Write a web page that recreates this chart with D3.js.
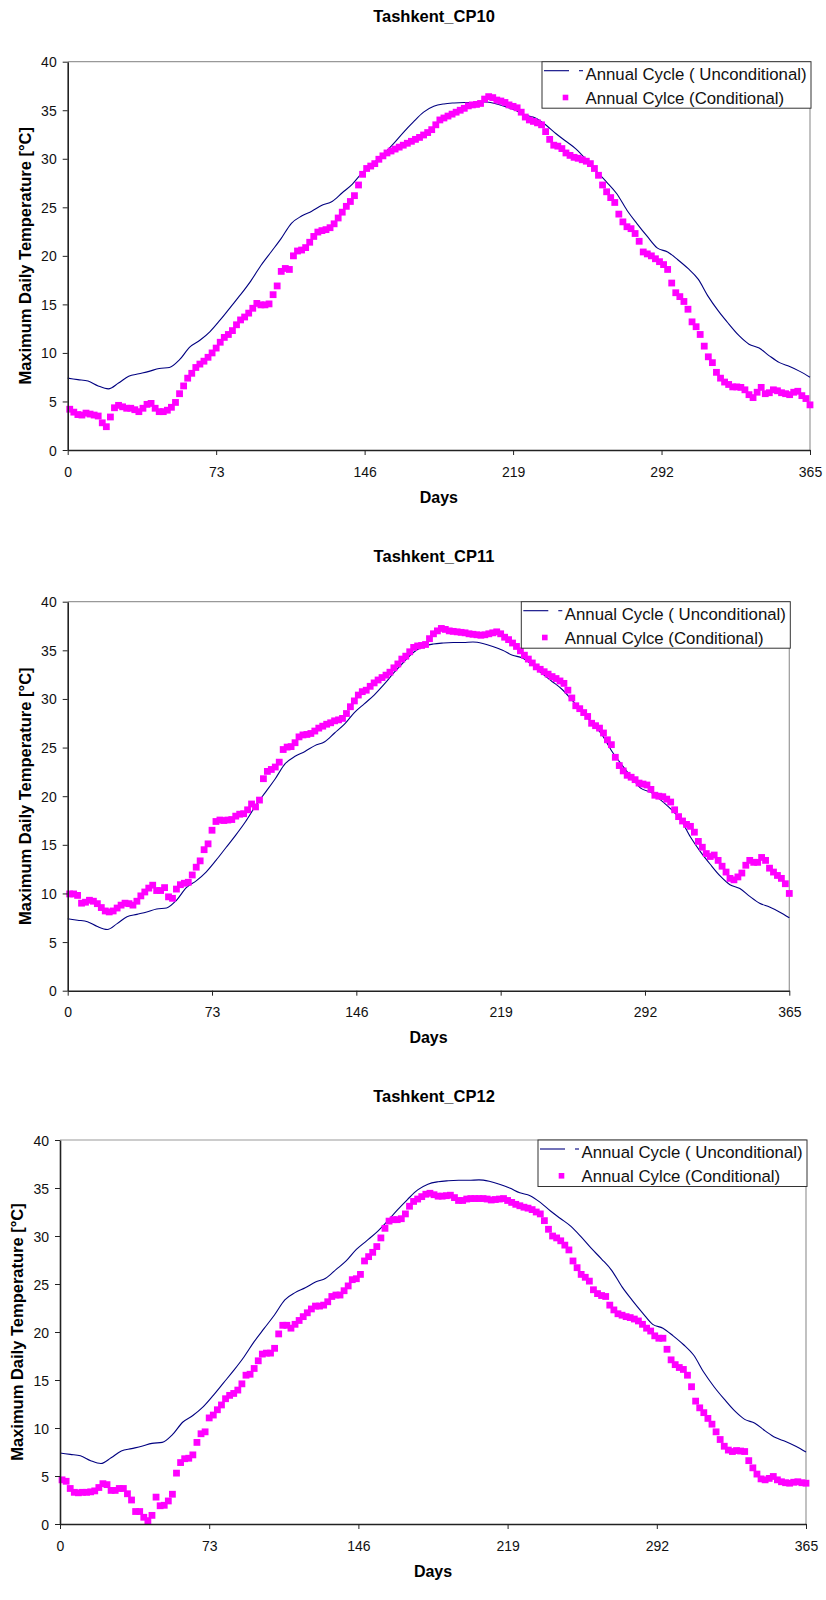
<!DOCTYPE html>
<html>
<head>
<meta charset="utf-8">
<script src="https://cdn.jsdelivr.net/npm/d3@7/dist/d3.min.js"></script>
<style>
  html, body { margin: 0; padding: 0; background: #fff; }
  svg { display: block; font-family: "Liberation Sans", Arial, sans-serif; }
</style>
</head>
<body>
<svg id="chart" width="826" height="1600"></svg>
<script>
// Axis ticks
const xTicks = [0, 73, 146, 219, 292, 365];
const yTicks = [0, 5, 10, 15, 20, 25, 30, 35, 40];

// Unconditional annual cycle of maximum daily temperature, every 5 days from day 0
const uncondStart = 0, uncondStep = 5;
const unconditional = [
  7.4, 7.25, 7.1, 6.6, 6.3, 6.9, 7.6, 7.85, 8.1, 8.4,
  8.5, 9.3, 10.6, 11.3, 12.2, 13.4, 14.7, 16.0, 17.4, 19.0,
  20.4, 21.8, 23.35, 24.1, 24.6, 25.2, 25.6, 26.5, 27.4, 28.6,
  29.5, 30.4, 31.5, 32.7, 33.8, 34.8, 35.4, 35.65, 35.75, 35.8,
  35.8, 35.85, 35.7, 35.4, 35.0, 34.5, 34.2, 33.5, 32.6, 31.8,
  31.0, 29.9, 28.7, 27.6, 26.4, 24.7, 23.3, 22.0, 20.8, 20.4,
  19.6, 18.7, 17.6, 15.8, 14.3, 13.0, 11.8, 10.9, 10.5, 9.7,
  9.0, 8.6, 8.1, 7.5
];

// Conditional annual cycles, every 2 days from day 1 to day 365
const condStart = 1, condStep = 2;
const cp10 = [
  4.2, 3.9, 3.65, 3.6, 3.8, 3.7, 3.6, 3.5, 2.8, 2.4,
  3.4, 4.35, 4.6, 4.45, 4.3, 4.3, 4.15, 3.95, 4.3, 4.7,
  4.8, 4.3, 3.95, 3.95, 4.1, 4.4, 4.9, 5.8, 6.6, 7.4,
  7.9, 8.5, 8.85, 9.15, 9.55, 10.0, 10.5, 11.1, 11.6, 11.9,
  12.3, 12.9, 13.4, 13.7, 14.1, 14.6, 15.1, 14.95, 14.95, 15.05,
  16.0, 16.9, 18.4, 18.7, 18.6, 20.0, 20.5, 20.6, 20.85, 21.4,
  22.0, 22.45, 22.6, 22.7, 22.9, 23.3, 23.9, 24.5, 25.1, 25.6,
  26.2, 27.3, 28.4, 29.0, 29.25, 29.5, 29.95, 30.3, 30.6, 30.8,
  31.0, 31.2, 31.4, 31.6, 31.8, 32.0, 32.2, 32.45, 32.7, 33.0,
  33.5, 34.0, 34.2, 34.4, 34.6, 34.8, 35.0, 35.2, 35.45, 35.55,
  35.6, 35.7, 36.15, 36.4, 36.3, 36.05, 35.95, 35.8, 35.55, 35.4,
  35.25, 34.8, 34.3, 34.0, 33.85, 33.7, 33.5, 32.8, 32.0, 31.4,
  31.3, 31.05, 30.6, 30.35, 30.15, 30.05, 29.9, 29.75, 29.5, 29.0,
  28.3, 27.3, 26.6, 26.0, 25.5, 24.3, 23.5, 23.0, 22.8, 22.3,
  21.5, 20.4, 20.2, 20.0, 19.7, 19.4, 19.1, 18.6, 17.2, 16.2,
  15.8, 15.3, 14.5, 13.2, 12.7, 11.9, 10.7, 9.6, 9.0, 8.0,
  7.4, 7.0, 6.75, 6.5, 6.5, 6.45, 6.2, 5.7, 5.4, 5.95,
  6.45, 5.8, 5.9, 6.2, 6.1, 5.9, 5.8, 5.7, 5.95, 6.05,
  5.6, 5.3, 4.65
];
const cp11 = [
  9.95, 9.95, 9.8, 9.0, 9.1, 9.3, 9.2, 8.95, 8.55, 8.2,
  8.1, 8.2, 8.5, 8.8, 9.0, 8.95, 8.8, 9.2, 9.75, 10.15,
  10.55, 10.85, 10.3, 10.3, 10.6, 9.65, 9.5, 10.45, 10.9, 11.05,
  11.15, 11.9, 12.7, 13.35, 14.5, 15.1, 16.5, 17.4, 17.55, 17.5,
  17.55, 17.6, 17.95, 18.15, 18.2, 18.6, 19.2, 18.9, 19.6, 21.8,
  22.55, 22.75, 23.0, 23.5, 24.8, 25.05, 25.1, 25.5, 26.1, 26.3,
  26.35, 26.45, 26.7, 27.0, 27.2, 27.4, 27.55, 27.75, 27.85, 28.0,
  28.5, 29.2, 29.8, 30.4, 30.75, 30.9, 31.3, 31.65, 31.95, 32.2,
  32.45, 32.75, 33.2, 33.6, 34.1, 34.4, 34.85, 35.3, 35.45, 35.5,
  35.6, 36.2, 36.7, 37.0, 37.25, 37.15, 37.0, 36.95, 36.9, 36.85,
  36.8, 36.7, 36.65, 36.6, 36.55, 36.6, 36.7, 36.8, 36.9, 36.7,
  36.35, 36.1, 35.75, 35.4, 34.95, 34.5, 34.1, 33.7, 33.3, 33.05,
  32.8, 32.55, 32.3, 32.1, 31.85, 31.6, 30.9, 30.1, 29.3, 29.0,
  28.6, 28.2, 27.5, 27.25, 27.0, 26.5, 25.8, 25.3, 24.0, 23.15,
  22.6, 22.15, 21.95, 21.7, 21.35, 21.25, 21.15, 20.7, 20.1, 20.0,
  19.95, 19.7, 19.4, 18.6, 17.9, 17.45, 17.1, 16.9, 16.3, 15.35,
  14.75, 14.1, 13.8, 13.95, 13.4, 12.8, 12.2, 11.55, 11.4, 11.7,
  12.1, 12.9, 13.4, 13.2, 13.2, 13.7, 13.4, 12.6, 12.2, 11.85,
  11.55, 11.0, 10.0
];
const cp12 = [
  4.6, 4.45, 3.7, 3.3, 3.25, 3.3, 3.3, 3.35, 3.45, 3.8,
  4.2, 4.1, 3.5, 3.5, 3.7, 3.7, 3.15, 2.5, 1.3, 1.3,
  0.7, 0.35, 0.9, 2.8, 1.9, 1.95, 2.4, 3.1, 5.3, 6.4,
  6.8, 6.85, 7.2, 8.5, 9.4, 9.6, 11.05, 11.35, 11.9, 12.4,
  13.05, 13.4, 13.6, 13.95, 14.6, 15.5, 15.6, 16.2, 17.0, 17.7,
  17.8, 17.8, 18.3, 19.8, 20.7, 20.7, 20.4, 20.8, 21.2, 21.6,
  22.0, 22.4, 22.7, 22.7, 22.8, 23.15, 23.7, 23.85, 23.85, 24.3,
  24.8, 25.45, 25.55, 26.0, 27.4, 27.85, 28.3, 28.9, 29.8, 30.8,
  31.55, 31.7, 31.7, 31.8, 32.3, 33.1, 33.6, 33.85, 34.1, 34.35,
  34.45, 34.3, 34.15, 34.15, 34.2, 34.25, 34.0, 33.7, 33.7, 33.85,
  33.9, 33.9, 33.9, 33.9, 33.85, 33.75, 33.8, 33.85, 33.9, 33.7,
  33.5, 33.3, 33.15, 33.0, 32.9, 32.75, 32.5, 32.3, 31.6, 30.7,
  30.0, 29.8, 29.5, 29.05, 28.55, 27.4, 26.7, 26.0, 25.7, 25.3,
  24.4, 24.0, 23.8, 23.7, 22.8, 22.3, 21.9, 21.75, 21.6, 21.5,
  21.35, 21.15, 20.8, 20.4, 20.1, 19.6, 19.35, 19.35, 18.2, 17.1,
  16.6, 16.3, 16.1, 15.5, 14.3, 12.8, 12.1, 11.6, 11.0, 10.4,
  9.6, 8.8, 8.1, 7.7, 7.55, 7.65, 7.6, 7.55, 6.6, 5.85,
  5.2, 4.7, 4.6, 4.75, 4.95, 4.6, 4.4, 4.3, 4.25, 4.35,
  4.4, 4.3, 4.25
];

const titles = ["Tashkent_CP10", "Tashkent_CP11", "Tashkent_CP12"];
const conditionalSeries = [cp10, cp11, cp12];
const legendLabels = ["Annual Cycle ( Unconditional)", "Annual Cylce (Conditional)"];
const xLabel = "Days";
const yLabel = "Maximum Daily Temperature [°C]";

// Plot frame of each panel
const frames = [
  { left: 67.7, right: 810, top: 61.7, bottom: 450, titleY: 21.5, yTitleX: 25 },
  { left: 67.7, right: 789.3, top: 601.7, bottom: 990.7, titleY: 561.5, yTitleX: 25 },
  { left: 60, right: 806, top: 1140, bottom: 1524, titleY: 1101.5, yTitleX: 17.5 }
];

const svg = d3.select("#chart");
const LINE = "#000080", PINK = "#FF00FF";

const uncondData = unconditional.map((v, i) => ({ day: uncondStart + i * uncondStep, v }));

frames.forEach((f, p) => {
  const condData = conditionalSeries[p].map((v, i) => ({ day: condStart + i * condStep, v }));
  const x = d3.scaleLinear().domain([0, 365]).range([f.left, f.right]);
  const y = d3.scaleLinear().domain([0, 40]).range([f.bottom, f.top]);
  const g = svg.append("g");

  // Title
  g.append("text")
    .attr("x", 434).attr("y", f.titleY)
    .attr("text-anchor", "middle")
    .attr("font-size", 16.5).attr("font-weight", "bold")
    .text(titles[p]);

  // Plot area border (top and right)
  g.append("path")
    .attr("d", `M${f.left},${f.top}H${f.right}V${f.bottom}`)
    .attr("fill", "none").attr("stroke", "#999").attr("stroke-width", 1.2);

  // Unconditional cycle line
  g.append("path")
    .datum(uncondData)
    .attr("fill", "none").attr("stroke", LINE).attr("stroke-width", 1.1)
    .attr("d", d3.line().curve(d3.curveMonotoneX).x(d => x(d.day)).y(d => y(d.v)));

  // Conditional cycle markers
  const ms = 6.8;
  g.append("g").selectAll("rect").data(condData).join("rect")
    .attr("x", d => x(d.day) - ms / 2).attr("y", d => y(d.v) - ms / 2)
    .attr("width", ms).attr("height", ms)
    .attr("fill", PINK);

  // Axes
  const xAxis = g.append("g").attr("transform", `translate(0,${f.bottom})`)
    .call(d3.axisBottom(x).tickValues(xTicks).tickSizeInner(5).tickSizeOuter(0));
  const yAxis = g.append("g").attr("transform", `translate(${f.left},0)`)
    .call(d3.axisLeft(y).tickValues(yTicks).tickSizeInner(5).tickSizeOuter(0));
  [xAxis, yAxis].forEach(a => {
    a.select(".domain").attr("stroke", "#222").attr("stroke-width", 1.6);
    a.selectAll(".tick line").attr("stroke", "#222").attr("stroke-width", 1);
    a.selectAll(".tick text")
      .attr("font-size", 14).attr("fill", "#111")
      .attr("font-family", "Liberation Sans, Arial, sans-serif");
  });
  xAxis.selectAll(".tick text").attr("y", 21.5).attr("dy", "0.36em");
  yAxis.selectAll(".tick text").attr("x", -11).attr("dy", "0.36em");

  // Axis titles
  g.append("text")
    .attr("x", (f.left + f.right) / 2).attr("y", f.bottom + 47)
    .attr("dy", "0.36em").attr("text-anchor", "middle")
    .attr("font-size", 16).attr("font-weight", "bold")
    .text(xLabel);
  g.append("text")
    .attr("transform", `translate(${f.yTitleX},${(f.top + f.bottom) / 2}) rotate(-90)`)
    .attr("dy", "0.36em").attr("text-anchor", "middle")
    .attr("font-size", 16.5).attr("font-weight", "bold")
    .text(yLabel);

  // Legend
  const lw = 269, lh = 46.5;
  const lx = f.right + 1 - lw, ly = f.top;
  const lg = g.append("g").attr("transform", `translate(${lx},${ly})`);
  lg.append("rect").attr("width", lw).attr("height", lh)
    .attr("fill", "#fff").attr("stroke", "#333").attr("stroke-width", 1);
  lg.append("line").attr("x1", 2).attr("x2", 27).attr("y1", 9).attr("y2", 9)
    .attr("stroke", LINE).attr("stroke-width", 1.1);
  lg.append("line").attr("x1", 37).attr("x2", 41).attr("y1", 9).attr("y2", 9)
    .attr("stroke", LINE).attr("stroke-width", 1.1);
  lg.append("rect").attr("x", 23.5 - 2.8).attr("y", 35.8 - 2.8)
    .attr("width", 5.6).attr("height", 5.6).attr("fill", PINK);
  lg.append("text").attr("x", 43.5).attr("y", 18.3)
    .attr("font-size", 16.8).attr("fill", "#111").text(legendLabels[0]);
  lg.append("text").attr("x", 43.5).attr("y", 42.3)
    .attr("font-size", 16.8).attr("fill", "#111").text(legendLabels[1]);
});
</script>
</body>
</html>
